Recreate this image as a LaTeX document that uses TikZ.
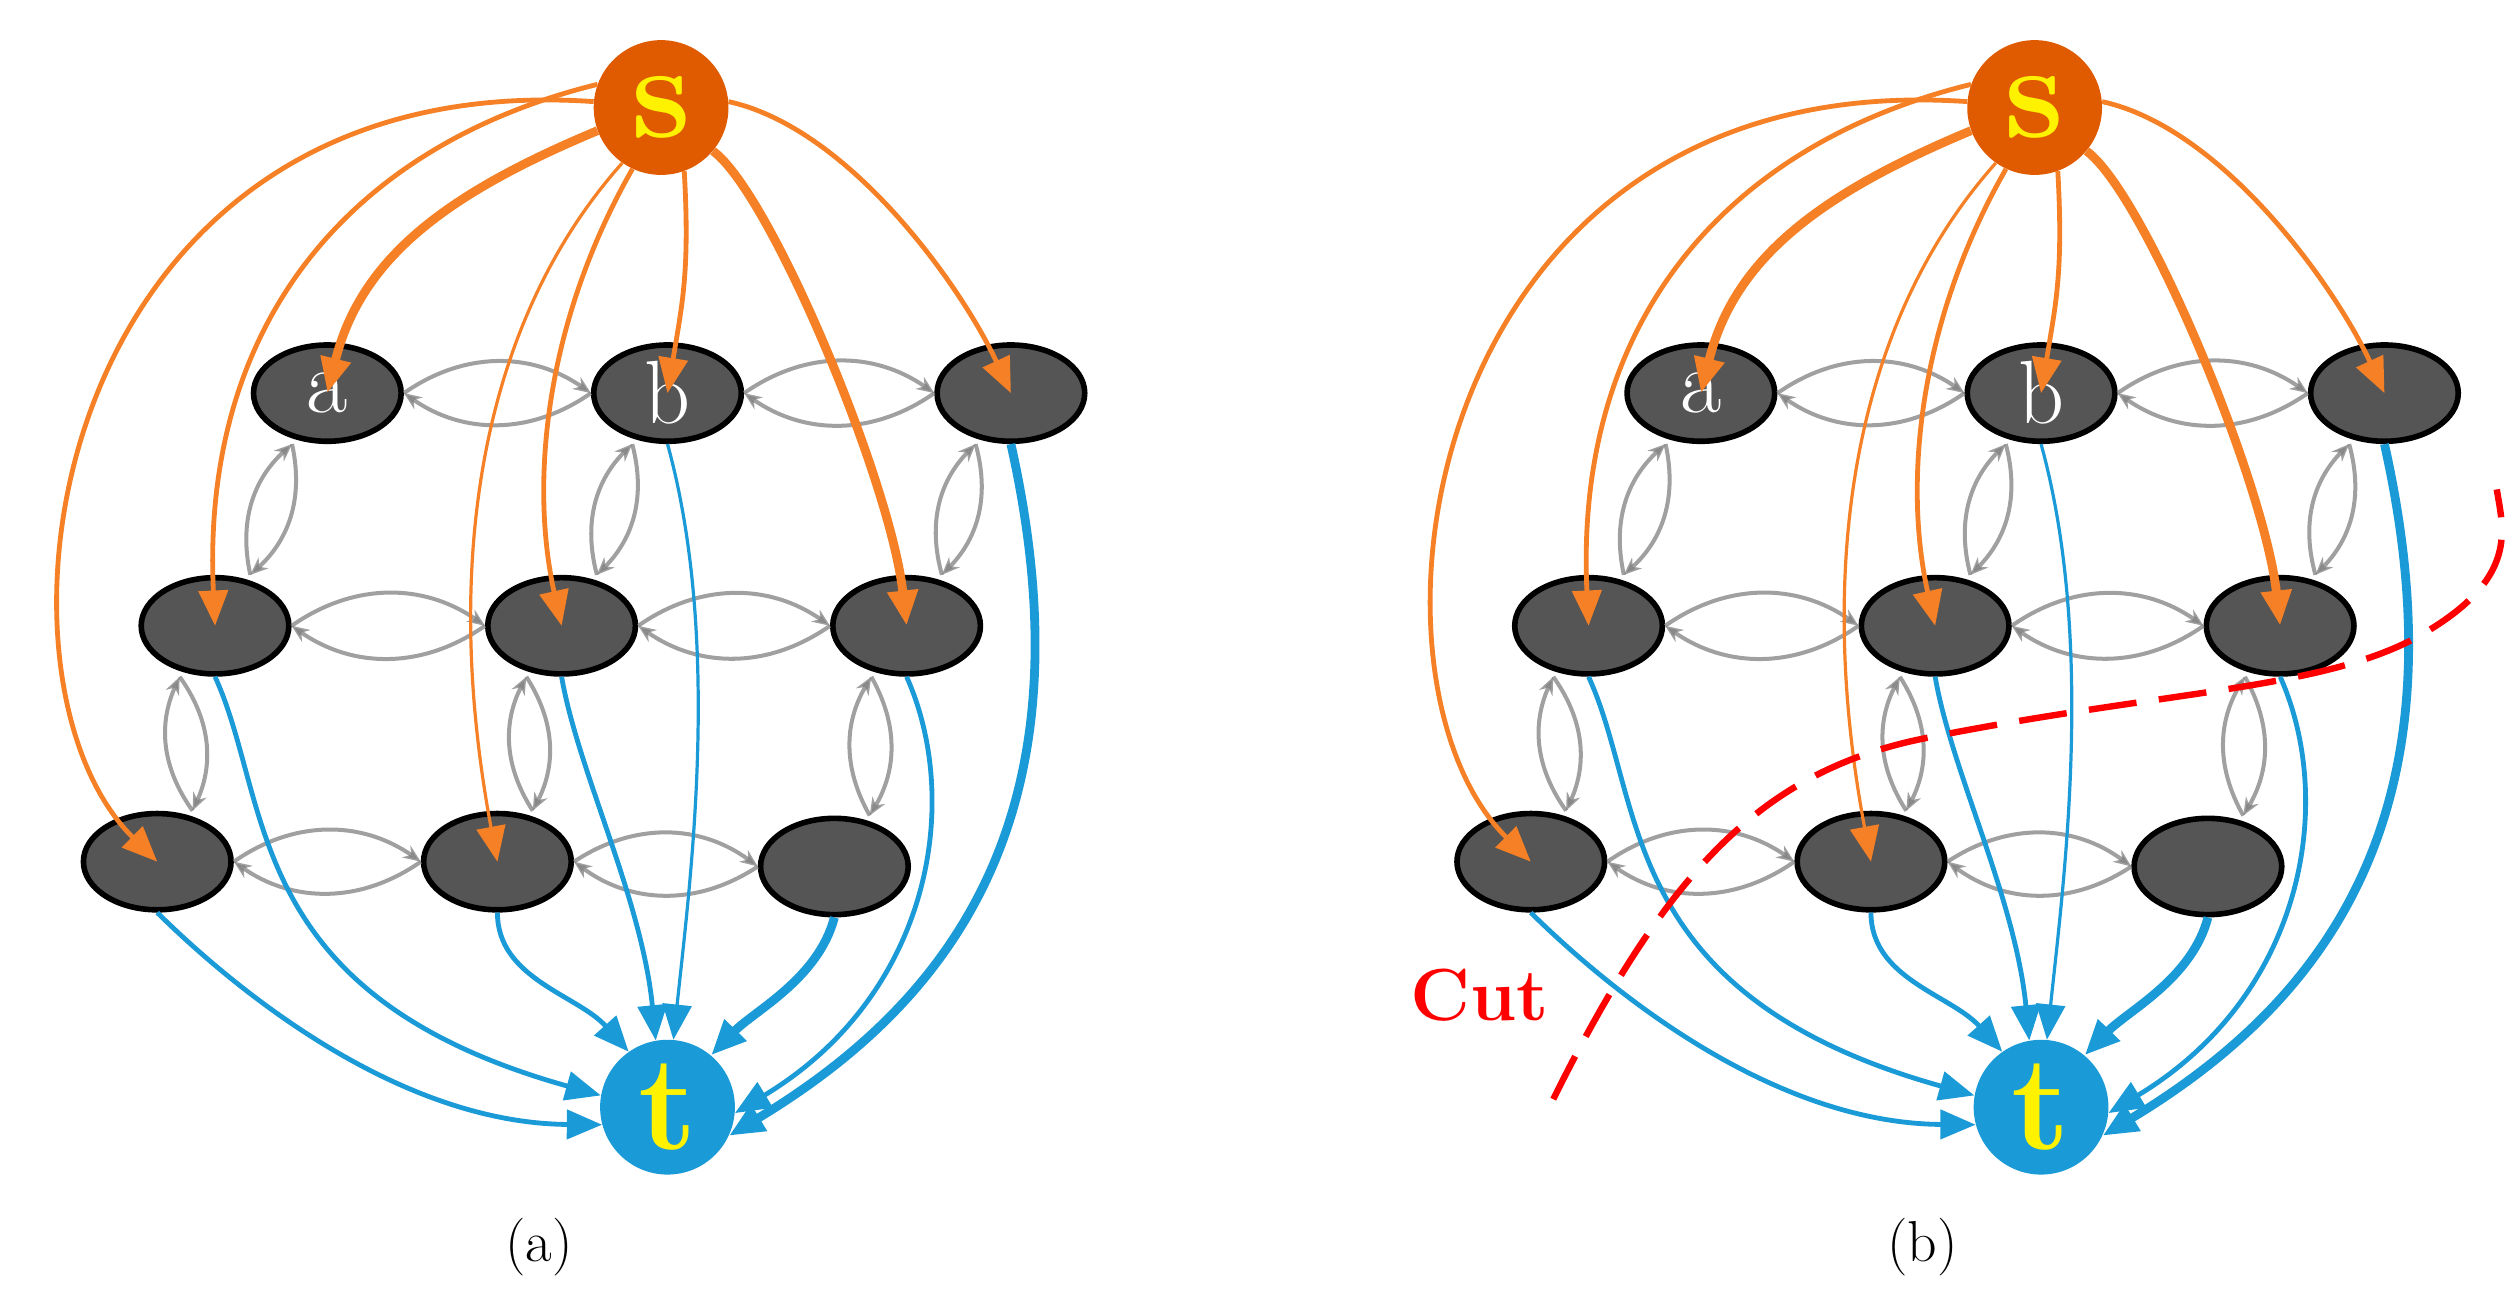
\documentclass[tikz,border=0pt]{standalone}
\usetikzlibrary{arrows.meta,shapes.geometric}
\definecolor{og}{HTML}{F58025}
\definecolor{sfill}{HTML}{E05A00}
\definecolor{bl}{HTML}{1A9AD6}
\definecolor{nd}{HTML}{555555}
\tikzset{
 el/.style={ellipse,draw=black,line width=3.5pt,fill=nd,minimum width=92pt,minimum height=60pt,inner sep=0pt},
 big/.style={circle,minimum size=84pt,inner sep=0pt,text=yellow,font=\bfseries\fontsize{84}{84}\selectfont},
 oe/.style={draw=og,line width=3pt,-{Triangle[length=22pt,width=18pt]}},
 oeT/.style={oe,line width=5.5pt},
 be/.style={draw=bl,line width=3pt,-{Triangle[length=22pt,width=18pt]}},
 beT/.style={be,line width=5.5pt},
 gp/.style={draw=gray,opacity=.75,line width=2.5pt,-{Stealth[length=11pt,width=9pt]}},
}
\newcommand\mypanel[1]{%
 \node[big,fill=sfill] (#1s) at (412,67) {s};
 \node[big,fill=bl] (#1t) at (416,690) {t};
 \node[el,text=white,font=\fontsize{56}{56}\selectfont] (#1a) at (204,245) {a};
 \node[el,text=white,font=\fontsize{56}{56}\selectfont] (#1b) at (416,245) {b};
 \node[el] (#1c) at (630,245) {};
 \node[el] (#1d) at (134,390) {};
 \node[el] (#1e) at (350,390) {};
 \node[el] (#1f) at (565,390) {};
 \node[el] (#1g) at (98,537) {};
 \node[el] (#1h) at (310,537) {};
 \node[el] (#1i) at (520,540) {};
 \foreach \p/\q in {a/b,b/c,d/e,e/f,g/h,h/i}{
  \draw[gp] (#1\p.east) to[bend left=35] (#1\q.west);
  \draw[gp] (#1\q.west) to[bend left=35] (#1\p.east);}
 \foreach \p/\q in {a/d,b/e,c/f,d/g,e/h,f/i}{
  \draw[gp] ([xshift=-22pt]#1\p.south) to[bend left=30] ([xshift=22pt]#1\q.north);
  \draw[gp] ([xshift=22pt]#1\q.north) to[bend left=30] ([xshift=-22pt]#1\p.south);}
 \draw[oe] (#1s.175) .. controls (30,40) and (-20,420) .. (#1g.center);
 \draw[oe] (#1s.160) .. controls (220,90) and (125,200) .. (#1d.center);
 \draw[oeT] (#1s.200) .. controls (280,120) and (225,160) .. (#1a.center);
 \draw[oe,line width=2pt] (#1s.235) .. controls (300,200) and (275,350) .. (#1h.center);
 \draw[oe] (#1s.245) .. controls (340,200) and (330,300) .. (#1e.center);
 \draw[oe] (#1s.290) .. controls (430,170) and (425,190) .. (#1b.center);
 \draw[oeT] (#1s.320) .. controls (480,120) and (555,300) .. (#1f.center);
 \draw[oe] (#1s.5) .. controls (530,80) and (600,180) .. (#1c.center);
 \draw[be,line width=2pt] (#1b.south) .. controls (450,400) and (430,550) .. (#1t.85);
 \draw[beT] (#1c.south) .. controls (680,500) and (600,620) .. (#1t.-25);
 \draw[be] (#1d.south) .. controls (170,500) and (150,620) .. (#1t.170);
 \draw[be] (#1e.south) .. controls (360,480) and (400,560) .. (#1t.100);
 \draw[be] (#1f.south) .. controls (600,500) and (580,620) .. (#1t.-5);
 \draw[be] (#1g.south) .. controls (150,620) and (250,700) .. (#1t.195);
 \draw[be] (#1h.south) .. controls (310,610) and (360,620) .. (#1t.125);
 \draw[beT] (#1i.south) .. controls (510,610) and (470,630) .. (#1t.50);
}
\begin{document}
\begin{tikzpicture}[x=1pt,y=-1pt]
\useasboundingbox (0,0) rectangle (1568,817);
\mypanel{L}
\begin{scope}[shift={(856,0)}]
\mypanel{R}
\end{scope}
\node[font=\fontsize{36}{36}\selectfont] (la) at (336,777) {(a)};
\node[font=\fontsize{36}{36}\selectfont] (lb) at (1198,777) {(b)};
\coordinate (c1) at (968,685);
\coordinate (c2) at (1556,305);
\draw[red,line width=4pt,dash pattern=on 30pt off 14pt] (c1) .. controls (1040,540) and (1100,480) .. (1200,460) .. controls (1350,430) and (1450,430) .. (1510,395) .. controls (1570,360) and (1560,330) .. (c2);
\node[red,font=\bfseries\fontsize{46}{46}\selectfont] (cut) at (922,620) {Cut};
\end{tikzpicture}
\end{document}
